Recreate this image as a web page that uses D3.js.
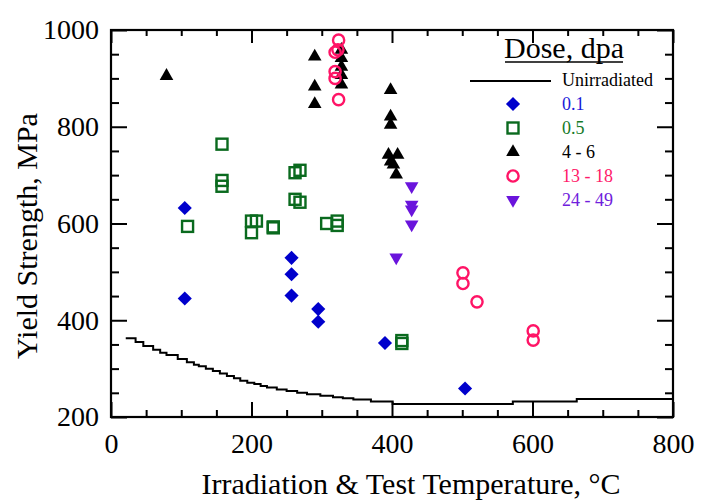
<!DOCTYPE html>
<html>
<head>
<meta charset="utf-8">
<script src="https://cdn.jsdelivr.net/npm/d3@7"></script>
<style>
  body { margin: 0; background: #fff; }
  svg text { font-family: "Liberation Serif", "Times New Roman", serif; }
</style>
</head>
<body>
<svg id="chart" width="702" height="500"></svg>
<script>
// values
const unirradT = [21, 35, 46, 60, 70, 79, 95, 108, 118, 125, 135, 145, 155, 165, 175, 184, 194, 204, 213, 222, 236, 250, 265, 279, 298, 316, 330, 345, 370, 401, 572, 663, 800];
const unirradY = [363, 355, 347, 339, 333, 328, 320, 313, 308, 305, 300, 295, 290, 285, 280, 275, 271, 268, 264, 261, 257, 254, 250, 247, 244, 241, 239, 236, 232, 227, 232, 237, 237];

const dose01T = [105, 105, 257, 257, 257, 295, 295, 390, 504];
const dose01Y = [632, 445, 529, 495, 451, 423, 397, 353, 259];

const dose05T = [109, 158, 158, 158, 200, 200, 207, 231, 231, 262, 269, 262, 269, 307, 322, 322, 414, 414];
const dose05Y = [594, 764, 689, 677, 581, 605, 605, 591, 593, 705, 710, 650, 644, 600, 605, 596, 358, 352];

const dose46T = [79, 290, 290, 290, 328, 328, 328, 328, 328, 398, 398, 398, 395, 408, 398, 402, 406];
const dose46Y = [905, 945, 883, 847, 959, 942, 924, 907, 887, 876, 821, 804, 742, 742, 728, 722, 701];

const dose1318T = [324, 319, 323, 319, 319, 324, 501, 501, 521, 601, 601];
const dose1318Y = [979, 954, 959, 914, 900, 856, 498, 476, 438, 378, 359];

const dose2449T = [428, 428, 428, 428, 406];
const dose2449Y = [677, 639, 629, 598, 530];

const xMajor = [0, 200, 400, 600, 800];
const yMajor = [200, 400, 600, 800, 1000];

const legendLabels = ["0.1", "0.5", "4 - 6", "13 - 18", "24 - 49"];

const svg = d3.select("#chart");

const x = d3.scaleLinear().domain([0, 800]).range([111, 673]);
const y = d3.scaleLinear().domain([200, 1000]).range([417, 30]);

const series = [
  { t: dose01T, v: dose01Y, shape: "diamond", color: "#0000cc", text: "#1a1ad9" },
  { t: dose05T, v: dose05Y, shape: "square", color: "#0a6a1e", text: "#157a28" },
  { t: dose46T, v: dose46Y, shape: "triUp", color: "#000000", text: "#000000" },
  { t: dose1318T, v: dose1318Y, shape: "circle", color: "#ff1466", text: "#ff1a6a" },
  { t: dose2449T, v: dose2449Y, shape: "triDown", color: "#6a14dc", text: "#7020dc" },
];

function drawMarker(g, shape, color) {
  if (shape == "diamond") {
    g.append("path").attr("d", d3.symbol(d3.symbolSquare, 100)())
      .attr("transform", "rotate(45)").attr("fill", color);
  } else if (shape == "square") {
    g.append("rect").attr("x", -5.5).attr("y", -5.5).attr("width", 11).attr("height", 11)
      .attr("fill", "none").attr("stroke", color).attr("stroke-width", 2.4);
  } else if (shape == "circle") {
    g.append("circle").attr("r", 5.6).attr("fill", "none")
      .attr("stroke", color).attr("stroke-width", 2.4);
  } else {
    g.append("path").attr("d", d3.symbol(d3.symbolTriangle, 80)())
      .attr("transform", shape == "triDown" ? "rotate(180)" : null)
      .attr("fill", color);
  }
}

// axes, ticks inward on all four sides
function tickAxis(axisFn, scale, values, size, tf) {
  const g = svg.append("g").attr("transform", tf)
    .call(axisFn(scale).tickValues(values).tickSize(size).tickFormat(""));
  g.select(".domain").remove();
  g.selectAll("line").attr("stroke", "#000").attr("stroke-width", 2);
  return g;
}
const xMinor = d3.range(0, 801, 50).filter(d => d % 200 != 0);
const yMinor = d3.range(200, 1001, 50).filter(d => d % 200 != 0);

tickAxis(d3.axisBottom, x, xMinor, -7, "translate(0,417)");
tickAxis(d3.axisBottom, x, xMajor, -15, "translate(0,417)");
tickAxis(d3.axisTop, x, xMinor, -6, "translate(0,30)");
tickAxis(d3.axisTop, x, xMajor, -13, "translate(0,30)");
tickAxis(d3.axisLeft, y, yMinor, -8, "translate(111,0)");
tickAxis(d3.axisLeft, y, yMajor, -16, "translate(111,0)");
tickAxis(d3.axisRight, y, yMinor, -8, "translate(673,0)");
tickAxis(d3.axisRight, y, yMajor, -16, "translate(673,0)");

// tick labels
const xl = svg.append("g").attr("transform", "translate(0,417)")
  .call(d3.axisBottom(x).tickValues(xMajor).tickSize(0).tickPadding(16).tickFormat(d3.format("d")));
xl.select(".domain").remove();
xl.selectAll("text").attr("font-size", 28).attr("fill", "#000")
  .style("font-family", "Liberation Serif");

const yl = svg.append("g").attr("transform", "translate(111,0)")
  .call(d3.axisLeft(y).tickValues(yMajor).tickSize(0).tickPadding(12).tickFormat(d3.format("d")));
yl.select(".domain").remove();
yl.selectAll("text").attr("font-size", 28).attr("fill", "#000")
  .style("font-family", "Liberation Serif");

// frame
svg.append("rect").attr("x", 111).attr("y", 30).attr("width", 562).attr("height", 387)
  .attr("fill", "none").attr("stroke", "#000").attr("stroke-width", 2.2);

// axis titles
svg.append("text").attr("x", 411).attr("y", 494).attr("text-anchor", "middle")
  .attr("font-size", 30).text("Irradiation & Test Temperature, \u00B0C");
svg.append("text").attr("transform", "translate(37,236)rotate(-90)")
  .attr("text-anchor", "middle").attr("font-size", 30).text("Yield Strength, MPa");

// unirradiated curve
const line = d3.line().x(d => x(d[0])).y(d => y(d[1])).curve(d3.curveStepAfter);
svg.append("path").datum(d3.zip(unirradT, unirradY))
  .attr("d", line).attr("fill", "none").attr("stroke", "#000").attr("stroke-width", 2);

// points
series.forEach(function (s) {
  s.t.forEach(function (t, i) {
    const g = svg.append("g").attr("transform", `translate(${x(t)},${y(s.v[i])})`);
    drawMarker(g, s.shape, s.color);
  });
});

// legend
svg.append("text").attr("x", 564).attr("y", 58).attr("text-anchor", "middle")
  .attr("font-size", 30).text("Dose, dpa");
svg.append("line").attr("x1", 505).attr("x2", 623).attr("y1", 62).attr("y2", 62)
  .attr("stroke", "#000").attr("stroke-width", 1.5);

svg.append("line").attr("x1", 470).attr("x2", 551).attr("y1", 81).attr("y2", 81)
  .attr("stroke", "#000").attr("stroke-width", 2);
svg.append("text").attr("x", 562).attr("y", 86).attr("font-size", 18).text("Unirradiated");

series.forEach(function (s, i) {
  const ly = 104 + i * 24;
  const g = svg.append("g").attr("transform", `translate(513,${ly})`);
  drawMarker(g, s.shape, s.color);
  svg.append("text").attr("x", 562).attr("y", ly + 6).attr("font-size", 18)
    .attr("fill", s.text).text(legendLabels[i]);
});
</script>
</body>
</html>
